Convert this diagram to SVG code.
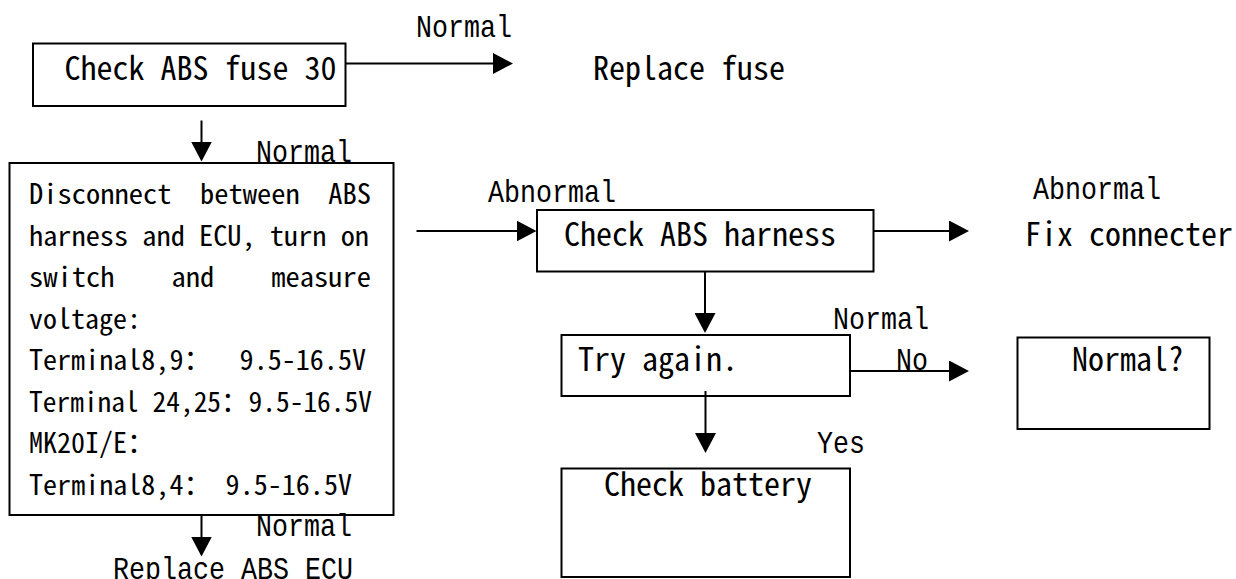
<svg xmlns="http://www.w3.org/2000/svg" width="1236" height="579" viewBox="0 0 1236 579">
<style>
.bg{fill:#fff}
.box{fill:none;stroke:#000;stroke-width:2}
.con{fill:none;stroke:#000;stroke-width:2}
text{fill:#000;font-family:"Noto Sans Mono CJK SC","Liberation Mono","Noto Sans CJK SC",monospace;white-space:pre}
.lbl{font-family:"Liberation Mono","Noto Sans Mono CJK SC",monospace}
.t32{font-size:32px}
.t28{font-size:28px}
</style>
<defs>
<marker id="ah" viewBox="0 0 20 21" markerWidth="20" markerHeight="21" refX="17" refY="10.5" orient="auto" markerUnits="userSpaceOnUse">
<path d="M0,0 L20,10.5 L0,21 Z" fill="#000"/>
</marker>
</defs>
<rect class="bg" x="0" y="0" width="1236" height="579"/>

<g id="connectors">
<path class="con" d="M345,63.5 H510" marker-end="url(#ah)"/>
<path class="con" d="M201.5,120.5 V158.5" marker-end="url(#ah)"/>
<path class="con" d="M416.5,231 H533.5" marker-end="url(#ah)"/>
<path class="con" d="M873.5,231 H966" marker-end="url(#ah)"/>
<path class="con" d="M705,271.5 V330" marker-end="url(#ah)"/>
<path class="con" d="M850,371 H966" marker-end="url(#ah)"/>
<path class="con" d="M705.5,391 V450" marker-end="url(#ah)"/>
<path class="con" d="M201.5,515 V553.5" marker-end="url(#ah)"/>
</g>

<g id="labels">
<text class="t32 lbl" x="416" y="37.3" textLength="96" lengthAdjust="spacingAndGlyphs">Normal</text>
<text class="t32 lbl" x="256" y="161.5" textLength="96" lengthAdjust="spacingAndGlyphs">Normal</text>
<text class="t32 lbl" x="488" y="202" textLength="128" lengthAdjust="spacingAndGlyphs">Abnormal</text>
<text class="t32 lbl" x="1033" y="199" textLength="128" lengthAdjust="spacingAndGlyphs">Abnormal</text>
<text class="t32 lbl" x="833" y="329" textLength="96" lengthAdjust="spacingAndGlyphs">Normal</text>
<text class="t32 lbl" x="896" y="370" textLength="32" lengthAdjust="spacingAndGlyphs">No</text>
<text class="t32 lbl" x="817" y="453.3" textLength="48" lengthAdjust="spacingAndGlyphs">Yes</text>
<text class="t32 lbl" x="256" y="535.5" textLength="96" lengthAdjust="spacingAndGlyphs">Normal</text>
</g>

<g id="node-check-fuse">
<rect class="box" x="33" y="43.5" width="312.5" height="62.5"/>
<text class="t32" x="64.5" y="80" textLength="272" lengthAdjust="spacingAndGlyphs">Check ABS fuse 30</text>
</g>

<g id="node-replace-fuse">
<text class="t32" x="593" y="80" textLength="192" lengthAdjust="spacingAndGlyphs">Replace fuse</text>
</g>

<g id="node-disconnect">
<rect class="box" x="9.5" y="163" width="384" height="352"/>
<text class="t28" xml:space="preserve" x="29" y="204" textLength="342" lengthAdjust="spacingAndGlyphs">Disconnect  between  ABS</text>
<text class="t28" xml:space="preserve" x="29" y="245.5" textLength="340" lengthAdjust="spacingAndGlyphs">harness and ECU, turn on</text>
<text class="t28" xml:space="preserve" x="29" y="287" textLength="342" lengthAdjust="spacingAndGlyphs">switch    and    measure</text>
<text class="t28" x="29" y="328.5" textLength="112" lengthAdjust="spacingAndGlyphs">voltage:</text>
<text class="t28" xml:space="preserve" x="29" y="370" textLength="337" lengthAdjust="spacingAndGlyphs">Terminal8,9：  9.5-16.5V</text>
<text class="t28" xml:space="preserve" x="29" y="411.5" textLength="343" lengthAdjust="spacingAndGlyphs">Terminal 24,25：9.5-16.5V</text>
<text class="t28" x="29" y="453" textLength="126" lengthAdjust="spacingAndGlyphs">MK20I/E：</text>
<text class="t28" xml:space="preserve" x="29" y="494.5" textLength="323" lengthAdjust="spacingAndGlyphs">Terminal8,4： 9.5-16.5V</text>
</g>

<g id="node-replace-ecu">
<text class="t32 lbl" x="113" y="579" textLength="240" lengthAdjust="spacingAndGlyphs">Replace ABS ECU</text>
</g>

<g id="node-check-harness">
<rect class="box" x="537" y="210" width="336.5" height="61.5"/>
<text class="t32" x="564" y="246" textLength="272" lengthAdjust="spacingAndGlyphs">Check ABS harness</text>
</g>

<g id="node-fix-connecter">
<text class="t32" x="1025" y="246" textLength="208" lengthAdjust="spacingAndGlyphs">Fix connecter</text>
</g>

<g id="node-try-again">
<rect class="box" x="561.5" y="335" width="288.5" height="61"/>
<text class="t32" x="578" y="370.7" textLength="160" lengthAdjust="spacingAndGlyphs">Try again.</text>
</g>

<g id="node-normal-q">
<rect class="box" x="1017.5" y="337.5" width="192" height="91.5"/>
<text class="t32" x="1072" y="370.7" textLength="112" lengthAdjust="spacingAndGlyphs">Normal?</text>
</g>

<g id="node-check-battery">
<rect class="box" x="561.5" y="468.5" width="288.5" height="108.5"/>
<text class="t32" x="604" y="496" textLength="208" lengthAdjust="spacingAndGlyphs">Check battery</text>
</g>
</svg>
